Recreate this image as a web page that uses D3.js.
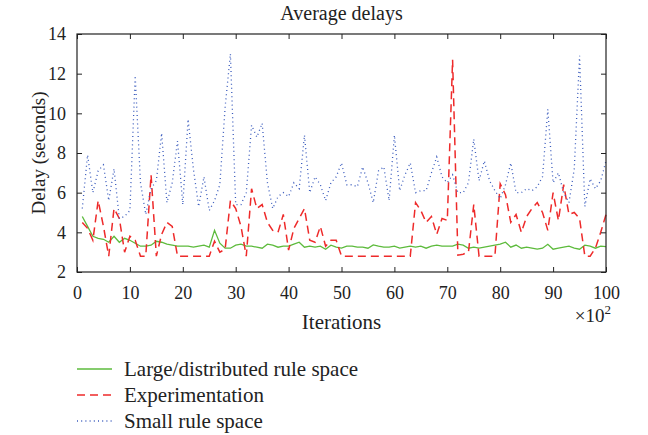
<!DOCTYPE html>
<html>
<head>
<meta charset="utf-8">
<script src="https://cdn.jsdelivr.net/npm/d3@7"></script>
<style>
  body { margin: 0; background: #fff; }
  svg text { font-family: "Liberation Serif", "Times New Roman", "DejaVu Serif", serif !important; fill: #222; }
</style>
</head>
<body>
<svg id="chart" width="648" height="435"></svg>
<script>
// iterations (x 10^2)
var iterations = d3.range(1, 101);

var largeSpace = [4.8, 4.3, 3.8, 3.7, 3.65, 3.5, 3.8, 3.5, 3.7, 3.6,
    3.45, 3.3, 3.3, 3.35, 3.55, 3.5, 3.4, 3.35, 3.3, 3.3,
    3.3, 3.25, 3.3, 3.35, 3.25, 4.1, 3.45, 3.2, 3.2, 3.35,
    3.4, 3.3, 3.3, 3.25, 3.2, 3.4, 3.35, 3.25, 3.3, 3.3,
    3.4, 3.5, 3.25, 3.3, 3.25, 3.3, 3.15, 3.35, 3.25, 3.2,
    3.3, 3.3, 3.25, 3.25, 3.2, 3.37, 3.3, 3.25, 3.25, 3.3,
    3.2, 3.25, 3.3, 3.25, 3.3, 3.2, 3.3, 3.35, 3.3, 3.3,
    3.3, 3.4, 3.35, 3.2, 3.25, 3.2, 3.25, 3.3, 3.35, 3.4,
    3.5, 3.25, 3.36, 3.2, 3.25, 3.2, 3.15, 3.2, 3.4, 3.15,
    3.2, 3.25, 3.3, 3.2, 3.15, 3.35, 3.3, 3.2, 3.3, 3.28];

var experimentation = [4.5, 4.2, 3.6, 5.6, 4.3, 2.8, 5.2, 4.7, 3.0, 3.8,
    3.6, 2.8, 2.8, 6.9, 2.8, 3.9, 4.5, 4.3, 2.8, 2.8,
    2.8, 2.8, 2.8, 2.8, 2.8, 3.55, 3.0, 3.15, 5.6, 5.2,
    4.3, 2.8, 6.2, 5.2, 5.4, 4.5, 4.1, 4.0, 4.9, 3.1,
    4.2, 4.7, 5.2, 3.6, 3.5, 4.3, 3.3, 3.6, 3.6, 2.8,
    2.8, 2.8, 2.8, 2.8, 2.8, 2.8, 2.8, 2.8, 2.8, 2.8,
    2.8, 2.8, 2.8, 5.5, 5.1, 4.5, 4.8, 3.9, 4.7, 4.6,
    12.7, 2.85, 2.9, 3.0, 5.4, 2.8, 2.8, 2.8, 2.8, 6.45,
    5.9, 4.5, 4.9, 4.0, 4.8, 5.2, 5.5, 5.0, 4.1, 6.0,
    4.6, 6.4, 4.9, 5.0, 4.7, 2.8, 2.8, 3.2, 4.0, 4.9];

var smallSpace = [5.2, 7.9, 6.0, 7.1, 7.4, 5.6, 7.2, 4.7, 4.8, 5.1,
    11.9, 6.5, 4.9, 6.2, 6.6, 9.0, 5.5, 6.5, 8.6, 5.4,
    9.7, 7.2, 5.3, 6.8, 5.1, 5.6, 6.4, 10.3, 13.0, 5.4,
    5.4, 6.0, 9.4, 8.8, 9.5, 6.5, 5.2, 5.8, 6.0, 5.8,
    6.5, 6.2, 8.9, 6.0, 6.8, 6.4, 5.6, 6.5, 6.8, 7.5,
    6.4, 6.4, 6.3, 7.3, 6.5, 5.5, 7.1, 7.3, 5.6, 8.9,
    6.1, 6.9, 7.5, 6.0, 6.1, 6.1, 7.0, 7.8, 6.8, 6.5,
    6.9, 6.0, 6.0, 6.5, 8.7, 6.6, 7.6, 6.6, 6.1, 5.7,
    6.4, 7.5, 6.0, 6.0, 6.2, 6.1, 6.3, 6.8, 10.2, 6.5,
    7.0, 6.0, 5.5, 7.2, 12.9, 5.3, 6.7, 6.2, 6.6, 7.6];

var xTicks = d3.range(0, 101, 10);
var yTicks = d3.range(2, 15, 2);

var series = [
    {name: "Large/distributed rule space", values: largeSpace, color: "#5dbb3c", dash: null, width: 1.3},
    {name: "Experimentation", values: experimentation, color: "#ee2a2a", dash: "8,5", width: 1.5},
    {name: "Small rule space", values: smallSpace, color: "#3a5bbd", dash: "1,3.2", width: 1.3}
];

var svg = d3.select("#chart");
var margin = {left: 77, top: 34, right: 42, bottom: 163};
var innerW = 648 - margin.left - margin.right;
var innerH = 435 - margin.top - margin.bottom;

var x = d3.scaleLinear().domain([0, 100]).range([0, innerW]);
var y = d3.scaleLinear().domain([2, 14]).range([innerH, 0]);

var g = svg.append("g").attr("transform", "translate(" + margin.left + "," + margin.top + ")");

// plot lines first so frame sits on top
var line = d3.line()
    .x(function (d, i) { return x(iterations[i]); })
    .y(function (d) { return y(d); });

g.selectAll("path.series")
    .data(series)
    .enter().append("path")
    .attr("class", "series")
    .attr("fill", "none")
    .attr("stroke", function (d) { return d.color; })
    .attr("stroke-width", function (d) { return d.width; })
    .attr("stroke-dasharray", function (d) { return d.dash; })
    .attr("d", function (d) { return line(d.values); });

function styleAxis(sel) {
    sel.select(".domain").remove();
    sel.attr("font-family", null);
    sel.selectAll(".tick line").attr("stroke", "#222").attr("stroke-width", 1);
    sel.selectAll(".tick text").style("font-size", "18px").attr("fill", "#222");
}

g.append("g")
    .attr("transform", "translate(0," + innerH + ")")
    .call(d3.axisBottom(x).tickValues(xTicks).tickSize(-5).tickPadding(14))
    .call(styleAxis);

g.append("g")
    .call(d3.axisTop(x).tickValues(xTicks).tickSize(-5).tickFormat(""))
    .call(styleAxis);

g.append("g")
    .call(d3.axisLeft(y).tickValues(yTicks).tickSize(-5).tickPadding(11))
    .call(styleAxis);

g.append("g")
    .attr("transform", "translate(" + innerW + ",0)")
    .call(d3.axisRight(y).tickValues(yTicks).tickSize(-5).tickFormat(""))
    .call(styleAxis);

g.append("rect")
    .attr("width", innerW)
    .attr("height", innerH)
    .attr("fill", "none")
    .attr("stroke", "#222")
    .attr("stroke-width", 1.2);

// titles
g.append("text")
    .attr("x", innerW / 2)
    .attr("y", -14)
    .attr("text-anchor", "middle")
    .style("font-size", "20px")
    .text("Average delays");

g.append("text")
    .attr("x", innerW / 2)
    .attr("y", innerH + 57)
    .attr("text-anchor", "middle")
    .style("font-size", "21px")
    .text("Iterations");

var mult = g.append("text")
    .attr("x", innerW + 5)
    .attr("y", innerH + 50)
    .attr("text-anchor", "end")
    .style("font-size", "19px");
mult.append("tspan").text("\u00d710");
mult.append("tspan").attr("dy", -8).style("font-size", "13px").text("2");

g.append("text")
    .attr("transform", "translate(-32," + innerH / 2 + ") rotate(-90)")
    .attr("text-anchor", "middle")
    .style("font-size", "19px")
    .text("Delay (seconds)");

// legend
var legend = svg.append("g").attr("transform", "translate(77,369)");
var rows = legend.selectAll("g")
    .data(series)
    .enter().append("g")
    .attr("transform", function (d, i) { return "translate(0," + i * 26 + ")"; });

rows.append("line")
    .attr("x1", 0).attr("x2", 35)
    .attr("stroke", function (d) { return d.color; })
    .attr("stroke-width", function (d) { return d.width; })
    .attr("stroke-dasharray", function (d) { return d.dash; });

rows.append("text")
    .attr("x", 47)
    .attr("dy", "0.35em")
    .style("font-size", "21px")
    .text(function (d) { return d.name; });
</script>
</body>
</html>
